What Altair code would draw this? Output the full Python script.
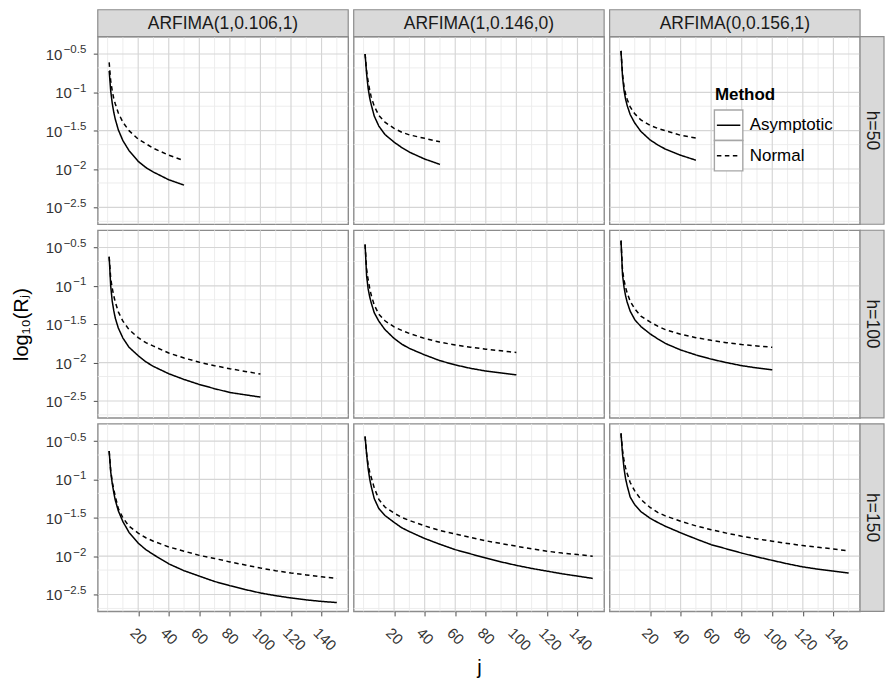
import math
import altair as alt
import pandas as pd

# ---------------- data ----------------
COL_LABELS = ["ARFIMA(1,0.106,1)", "ARFIMA(1,0.146,0)", "ARFIMA(0,0.156,1)"]
ROW_LABELS = ["h=50", "h=100", "h=150"]
HORIZONS = [50, 100, 150]
METHODS = ["Asymptotic", "Normal"]
J = [1, 2, 3, 4, 5, 7, 10, 14, 20, 25, 30, 40, 50, 60, 70, 80, 90, 100,
     110, 120, 130, 140, 150]

# log10(R_j), h = 50
ASY_H50_M1 = [-0.72, -0.98, -1.14, -1.26, -1.35, -1.49, -1.63, -1.76, -1.90, -1.98, -2.04, -2.14, -2.21]
NOR_H50_M1 = [-0.61, -0.85, -0.98, -1.08, -1.15, -1.27, -1.39, -1.50, -1.61, -1.67, -1.73, -1.82, -1.89]
ASY_H50_M2 = [-0.50, -0.76, -0.95, -1.07, -1.16, -1.31, -1.44, -1.55, -1.65, -1.72, -1.78, -1.87, -1.94]
NOR_H50_M2 = [-0.50, -0.72, -0.86, -0.97, -1.06, -1.18, -1.30, -1.39, -1.47, -1.52, -1.555, -1.60, -1.645]
ASY_H50_M3 = [-0.46, -0.80, -0.98, -1.09, -1.17, -1.29, -1.40, -1.51, -1.62, -1.685, -1.74, -1.82, -1.885]
NOR_H50_M3 = [-0.46, -0.76, -0.93, -1.02, -1.09, -1.19, -1.28, -1.36, -1.43, -1.47, -1.50, -1.56, -1.595]
# h = 100
ASY_H100_M1 = [-0.62, -1.00, -1.20, -1.32, -1.42, -1.55, -1.68, -1.80, -1.91, -1.99, -2.05, -2.145, -2.22,
               -2.285, -2.34, -2.39, -2.42, -2.45]
NOR_H100_M1 = [-0.62, -0.90, -1.03, -1.13, -1.21, -1.34, -1.46, -1.57, -1.675, -1.74, -1.785, -1.875, -1.94,
               -1.995, -2.04, -2.08, -2.115, -2.15]
ASY_H100_M2 = [-0.46, -0.87, -1.04, -1.14, -1.22, -1.35, -1.46, -1.57, -1.685, -1.76, -1.815, -1.90, -1.975,
               -2.03, -2.075, -2.11, -2.135, -2.16]
NOR_H100_M2 = [-0.46, -0.78, -0.92, -1.03, -1.12, -1.25, -1.37, -1.455, -1.535, -1.58, -1.62, -1.685, -1.735,
               -1.77, -1.80, -1.825, -1.847, -1.868]
ASY_H100_M3 = [-0.41, -0.86, -1.02, -1.13, -1.21, -1.33, -1.44, -1.53, -1.625, -1.69, -1.75, -1.835, -1.90,
               -1.955, -2.00, -2.04, -2.07, -2.095]
NOR_H100_M3 = [-0.41, -0.80, -0.93, -1.02, -1.09, -1.20, -1.30, -1.395, -1.47, -1.525, -1.57, -1.63, -1.675,
               -1.71, -1.74, -1.765, -1.783, -1.80]
# h = 150
ASY_H150_M1 = [-0.63, -0.90, -1.05, -1.17, -1.27, -1.41, -1.55, -1.69, -1.83, -1.915, -1.98, -2.10, -2.19,
               -2.26, -2.33, -2.385, -2.435, -2.48, -2.515, -2.545, -2.57, -2.59, -2.605]
NOR_H150_M1 = [-0.63, -0.88, -1.03, -1.13, -1.22, -1.38, -1.50, -1.61, -1.70, -1.76, -1.805, -1.88, -1.935,
               -1.99, -2.03, -2.075, -2.115, -2.155, -2.19, -2.22, -2.245, -2.27, -2.29]
ASY_H150_M2 = [-0.44, -0.67, -0.86, -0.99, -1.09, -1.25, -1.38, -1.47, -1.56, -1.63, -1.68, -1.77, -1.845,
               -1.915, -1.97, -2.025, -2.075, -2.12, -2.16, -2.195, -2.23, -2.26, -2.29]
NOR_H150_M2 = [-0.44, -0.66, -0.81, -0.90, -0.97, -1.11, -1.26, -1.36, -1.44, -1.495, -1.535, -1.605, -1.665,
               -1.71, -1.755, -1.80, -1.835, -1.87, -1.905, -1.935, -1.96, -1.98, -2.00]
ASY_H150_M3 = [-0.40, -0.67, -0.86, -0.99, -1.08, -1.23, -1.33, -1.42, -1.505, -1.56, -1.61, -1.695, -1.775,
               -1.85, -1.905, -1.96, -2.01, -2.055, -2.10, -2.14, -2.17, -2.195, -2.22]
NOR_H150_M3 = [-0.40, -0.62, -0.76, -0.85, -0.92, -1.04, -1.15, -1.26, -1.365, -1.43, -1.475, -1.545, -1.605,
               -1.655, -1.70, -1.74, -1.775, -1.805, -1.835, -1.862, -1.885, -1.907, -1.93]

SERIES = [
    [(ASY_H50_M1, NOR_H50_M1), (ASY_H50_M2, NOR_H50_M2), (ASY_H50_M3, NOR_H50_M3)],
    [(ASY_H100_M1, NOR_H100_M1), (ASY_H100_M2, NOR_H100_M2), (ASY_H100_M3, NOR_H100_M3)],
    [(ASY_H150_M1, NOR_H150_M1), (ASY_H150_M2, NOR_H150_M2), (ASY_H150_M3, NOR_H150_M3)],
]

X_MAJOR = [20, 40, 60, 80, 100, 120, 140]
X_MINOR = [0, 10, 30, 50, 70, 90, 110, 130, 150]
Y_MAJOR = [-0.5, -1.0, -1.5, -2.0, -2.5]
Y_EXPONENTS = ["\u22120.5", "\u22121", "\u22121.5", "\u22122", "\u22122.5"]   # tick labels 10^exponent
# minor grid of a log10 scale: midpoints (in data units) between majors
Y_MINOR = [round(math.log10((10 ** a + 10 ** (a - 0.5)) / 2), 4) for a in Y_MAJOR]
X_DOMAIN = [-6.45, 157.45]
Y_DOMAIN = [-2.72, -0.275]

# ---------------- styling ----------------
FONT = "Liberation Sans, Arial, DejaVu Sans, sans-serif"
W, H = 251, 188
STRIP = 27
RSTRIP = 24
BORDER = "#8C8C8C"
STRIP_FILL = "#D9D9D9"
GRID_MAJOR = "#D5D5D5"
GRID_MINOR = "#EBEBEB"
TICK = "#4D4D4D"
LAB = "#333333"

xs = alt.Scale(domain=X_DOMAIN, nice=False, zero=False)
ys = alt.Scale(domain=Y_DOMAIN, nice=False, zero=False)
dash_scale = alt.Scale(domain=METHODS, range=[[1, 0], [4.5, 3.5]])


def x_axis(c):
    kw = dict(values=X_MAJOR, grid=False, domain=False, tickSize=4.5, tickColor=TICK,
              tickWidth=1, labelAngle=45, labelAlign="left", labelBaseline="middle",
              labelOffset=-6, labelPadding=14, labelFontSize=15, labelColor=LAB,
              labelFont=FONT, labelOverlap=False, labelFlush=False)
    if c == 1:
        kw.update(title="j", titleFontSize=20, titleFont=FONT, titleFontWeight="normal",
                  titleColor="black", titlePadding=4)
    else:
        kw.update(title=None)
    return alt.Axis(**kw)


def y_axis(r):
    kw = dict(values=Y_MAJOR, grid=False, domain=False, tickSize=4.5, tickColor=TICK,
              tickWidth=1, labels=False)
    if r == 1:
        kw.update(title="log\u2081\u2080(R\u2c7c)", titleFontSize=20, titleFont=FONT,
                  titleFontWeight="normal", titleColor="black", titlePadding=61)
    else:
        kw.update(title=None)
    return alt.Axis(**kw)


def panel(r, c):
    xa = x_axis(c) if r == 2 else None
    ya = y_axis(r) if c == 0 else None

    def vrules(vals, color, width):
        return alt.Chart(pd.DataFrame({"g": vals})).mark_rule(color=color, strokeWidth=width).encode(
            x=alt.X("g:Q", scale=xs, axis=xa))

    def hrules(vals, color, width):
        return alt.Chart(pd.DataFrame({"g": vals})).mark_rule(color=color, strokeWidth=width).encode(
            y=alt.Y("g:Q", scale=ys, axis=ya))

    n = J.index(HORIZONS[r]) + 1
    rows = []
    for m, series in zip(METHODS, SERIES[r][c]):
        for j, v in zip(J[:n], series):
            rows.append({"j": j, "v": v, "Method": m})
    df = pd.DataFrame(rows)

    layers = [
        vrules(X_MINOR, GRID_MINOR, 0.9),
        hrules(Y_MINOR, GRID_MINOR, 0.9),
        vrules(X_MAJOR, GRID_MAJOR, 1.15),
        hrules(Y_MAJOR, GRID_MAJOR, 1.15),
    ]

    lines = alt.Chart(df).mark_line(color="black", strokeWidth=1.5, strokeCap="butt").encode(
        x=alt.X("j:Q", scale=xs, axis=xa),
        y=alt.Y("v:Q", scale=ys, axis=ya),
        strokeDash=alt.StrokeDash("Method:N", scale=dash_scale, legend=None),
        detail="Method:N",
    )
    layers.append(lines)

    if c == 0:
        td = pd.DataFrame({"tick": Y_MAJOR, "exp": Y_EXPONENTS})
        # exponent (superscript) part of the 10^x tick labels
        layers.append(alt.Chart(td).mark_text(font=FONT, fontSize=11.5, color=LAB, align="right",
                                              baseline="alphabetic", dy=-0.5).encode(
            x=alt.value(-11.5), y=alt.Y("tick:Q", scale=ys, axis=ya), text="exp:N"))
        # base "10", placed just left of its exponent
        layers.append(alt.Chart(td).transform_calculate(
            base="'10'", xoff="length(datum.exp) > 2 ? -35.5 : -26"
        ).mark_text(font=FONT, fontSize=15, color=LAB, align="right", baseline="alphabetic", dy=6).encode(
            x=alt.X("xoff:Q", scale=None), y=alt.Y("tick:Q", scale=ys, axis=ya), text="base:N"))

    if r == 0:
        sd = pd.DataFrame({"lab": [COL_LABELS[c]]})
        layers.append(alt.Chart(sd).mark_rect(fill=STRIP_FILL, stroke=BORDER, strokeWidth=1.2).encode(
            x=alt.value(0), x2=alt.value(W), y=alt.value(-STRIP), y2=alt.value(0)))
        layers.append(alt.Chart(sd).mark_text(font=FONT, fontSize=17.5, color="#1A1A1A",
                                              baseline="middle", align="center").encode(
            x=alt.value(W / 2), y=alt.value(-STRIP / 2 + 0.5), text="lab:N"))
    if c == 2:
        sd = pd.DataFrame({"lab": [ROW_LABELS[r]]})
        layers.append(alt.Chart(sd).mark_rect(fill=STRIP_FILL, stroke=BORDER, strokeWidth=1.2).encode(
            x=alt.value(W), x2=alt.value(W + RSTRIP), y=alt.value(0), y2=alt.value(H)))
        layers.append(alt.Chart(sd).mark_text(font=FONT, fontSize=17.5, color="#1A1A1A", angle=90,
                                              baseline="middle", align="center").encode(
            x=alt.value(W + RSTRIP / 2), y=alt.value(H / 2), text="lab:N"))

    if r == 0 and c == 2:
        lx, ly, kw_, kh = 105, 73.5, 28.5, 30.5
        ld = pd.DataFrame({"Method": METHODS})
        layers.append(alt.Chart(pd.DataFrame({"t": ["Method"]})).mark_text(
            font=FONT, fontSize=17, fontWeight="bold", color="black", align="left",
            baseline="middle").encode(x=alt.value(lx + 0.5), y=alt.value(ly - 15), text="t:N"))
        for i, m in enumerate(METHODS):
            sub = ld[ld["Method"] == m]
            y0 = ly + i * kh
            layers.append(alt.Chart(sub).mark_rect(fill="white", stroke="#A6A6A6", strokeWidth=1.4).encode(
                x=alt.value(lx), x2=alt.value(lx + kw_), y=alt.value(y0), y2=alt.value(y0 + kh)))
            layers.append(alt.Chart(sub).mark_rule(color="black", strokeWidth=1.5, strokeCap="butt").encode(
                x=alt.value(lx + 2.5), x2=alt.value(lx + kw_ - 2.5), y=alt.value(y0 + kh / 2),
                strokeDash=alt.StrokeDash("Method:N", scale=dash_scale, legend=None)))
            layers.append(alt.Chart(sub).mark_text(font=FONT, fontSize=17, color="black", align="left",
                                                   baseline="middle").encode(
                x=alt.value(lx + kw_ + 7), y=alt.value(y0 + kh / 2), text="Method:N"))

    return alt.layer(*layers).properties(width=W, height=H)


panels = [panel(r, c) for r in range(3) for c in range(3)]

chart = alt.concat(*panels, columns=3, spacing={"row": 6, "column": 5.5}, bounds="flush").properties(
    padding={"left": 11, "top": 7, "right": 0, "bottom": 4},
    background="white",
).configure_view(stroke=BORDER, strokeWidth=1.4, fill="white")

chart.save("out.html", embed_options={"renderer": "svg", "actions": False})
